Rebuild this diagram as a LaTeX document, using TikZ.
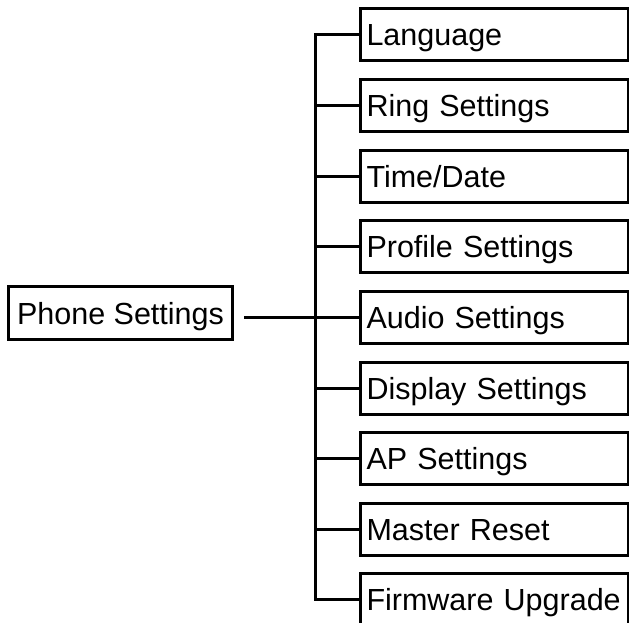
\documentclass[tikz,border=0pt]{standalone}
\usepackage{fontspec}
\setmainfont{Liberation Sans}
\begin{document}
\begin{tikzpicture}[x=1pt,y=-1pt,
  every node/.style={font=\fontsize{30.5}{36}\selectfont},
  itembox/.style={draw, line width=3pt, anchor=north west, minimum width=268pt,
    minimum height=52pt, text width=256pt, inner xsep=6pt, inner ysep=0pt,
    align=left, text height=22pt, text depth=0pt},
  rootbox/.style={draw, line width=3pt, anchor=north west, minimum width=224pt,
    minimum height=53pt, inner xsep=6pt, inner ysep=0pt, text height=22pt, text depth=0pt},
  link/.style={line width=3pt, line join=miter}]
\useasboundingbox (0,0) rectangle (629,623);
\clip (0,0) rectangle (629,623);
\node[rootbox] (phone) at (7,285) {Phone Settings};
\node[itembox] (lang) at (359,7.5) {Language};
\node[itembox] (ring) at (359,78.1) {Ring Settings};
\node[itembox] (time) at (359,148.7) {Time/Date};
\node[itembox] (prof) at (359,219.3) {Profile Settings};
\node[itembox] (audio) at (359,289.9) {Audio Settings};
\node[itembox] (disp) at (359,360.5) {Display Settings};
\node[itembox] (ap) at (359,431.1) {AP Settings};
\node[itembox] (master) at (359,501.7) {Master Reset};
\node[itembox] (fw) at (359,572.3) {\mbox{Firmware Upgrade}};
\draw[link] (lang.west) -- ++(-44,0) |- (fw.west);
\foreach \n in {ring,time,prof,disp,ap,master}
  \draw[link] (\n.west) -- ++(-44,0);
\draw[link] ([xshift=10pt]phone.east |- audio.west) -- (audio.west);
\end{tikzpicture}
\end{document}
